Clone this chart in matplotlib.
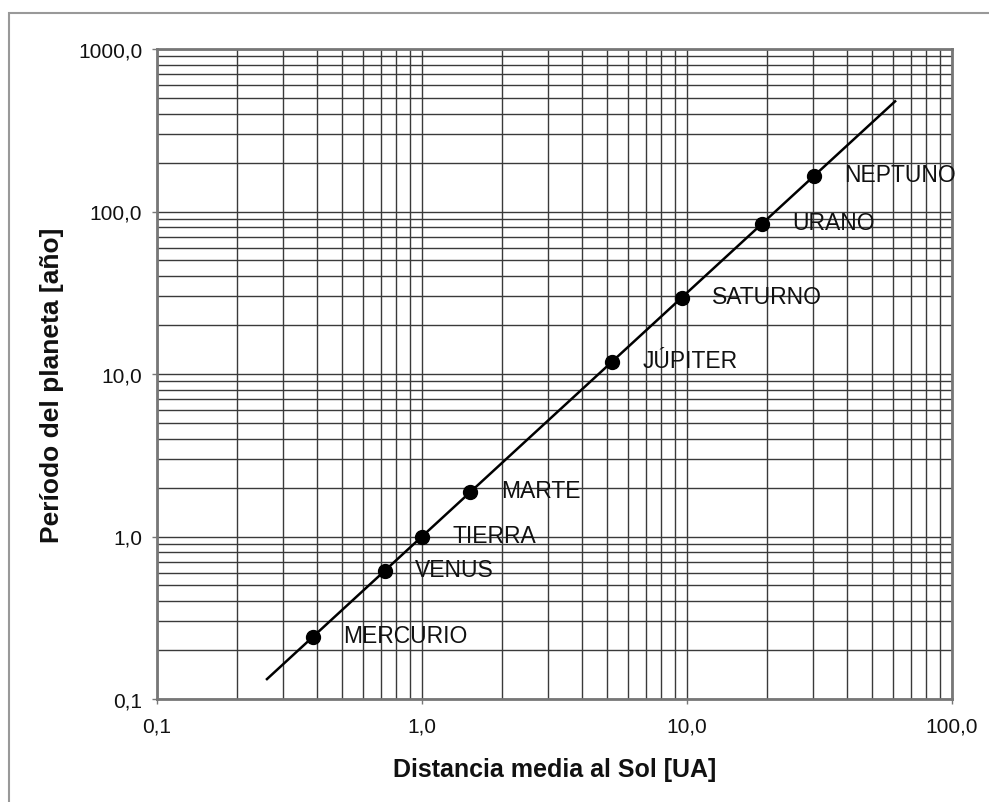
import numpy as np
import matplotlib
matplotlib.use("Agg")
import matplotlib.pyplot as plt
from matplotlib.ticker import LogLocator, FuncFormatter, NullFormatter
from matplotlib.patches import Rectangle

plt.rcParams['font.family'] = ['Liberation Sans', 'DejaVu Sans']

# datos de los planetas
planetas = ["MERCURIO", "VENUS", "TIERRA", "MARTE", "JÚPITER", "SATURNO", "URANO", "NEPTUNO"]
distancia = [0.387, 0.723, 1.0, 1.524, 5.203, 9.537, 19.19, 30.07]   # UA
periodo = [0.241, 0.615, 1.0, 1.881, 11.86, 29.46, 84.01, 164.8]     # años

# recta de la tercera ley de Kepler (extremos)
dist_recta = [0.26, 61.0]
per_recta = [0.1326, 476.4]

fig = plt.figure(figsize=(9.89, 8.03), dpi=100)
ax = fig.add_axes([157/989, 103/803, 795/989, 650/803])

ax.set_xscale('log')
ax.set_yscale('log')
ax.set_xlim(0.1, 100)
ax.set_ylim(0.1, 1000)

ax.plot(dist_recta, per_recta, color='black', lw=1.8, zorder=3)
ax.plot(distancia, periodo, 'o', color='black', ms=10, zorder=4)

for nombre, x, y in zip(planetas, distancia, periodo):
    ax.annotate(nombre, (x, y), xytext=(22, 1), textcoords='offset points',
                fontsize=16.5, va='center', ha='left', color='#111111')

fmt = FuncFormatter(lambda v, p: f"{v:.1f}".replace('.', ','))
for eje in (ax.xaxis, ax.yaxis):
    eje.set_major_locator(LogLocator(base=10))
    eje.set_minor_locator(LogLocator(base=10, subs=np.arange(2, 10)))
    eje.set_major_formatter(fmt)
    eje.set_minor_formatter(NullFormatter())

ax.grid(True, which='both', color='#3a3a3a', lw=1.0)
ax.tick_params(which='major', direction='out', length=3.6, width=1, color='#777777',
               labelsize=15, labelcolor='#111111')
ax.tick_params(axis='x', which='major', pad=9)
ax.tick_params(axis='y', which='major', pad=7)
ax.tick_params(which='minor', length=0)
for s in ax.spines.values():
    s.set_color('#777777')
    s.set_linewidth(2)

# titulos de los ejes
fig.text(555/989, 1 - 770/803, "Distancia media al Sol [UA]", fontsize=18,
         fontweight='bold', ha='center', va='center', color='#111111')
fig.text(52/989, 1 - 385/803, "Período del planeta [año]", fontsize=19,
         fontweight='bold', ha='center', va='center', rotation=90, color='#111111')

# marco gris de la figura
fig.add_artist(Rectangle((8.5/989, -0.1), 1.2, 1.1 - 14/803,
                         transform=fig.transFigure, fill=False,
                         edgecolor='#999999', lw=1.5))

fig.savefig("out.png", dpi=100)
